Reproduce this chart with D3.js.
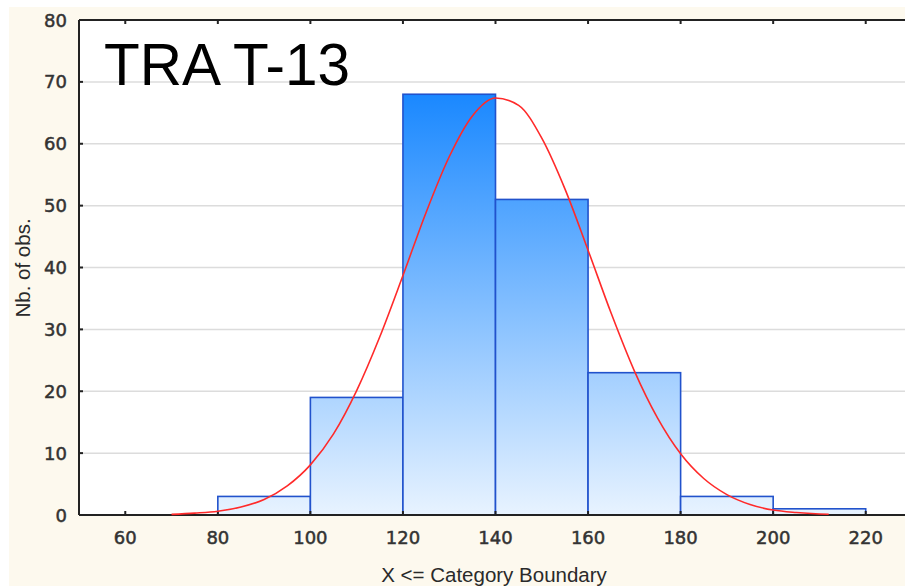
<!DOCTYPE html>
<html>
<head>
<meta charset="utf-8">
<script src="https://cdn.jsdelivr.net/npm/d3@7"></script>
<style>
  body { margin: 0; background: #fff; }
  svg { display: block; }
</style>
</head>
<body>
<div id="chart"></div>
<script>
// histogram bins (lower edge, upper edge, count)
const binStart = [80, 100, 120, 140, 160, 180, 200];
const binEnd = [100, 120, 140, 160, 180, 200, 220];
const counts = [3, 19, 68, 51, 23, 3, 1];

// fitted normal curve
const curveX = [70, 75, 80, 85, 90, 95, 100, 105, 110, 115, 120, 125, 130, 135, 140,
    145, 150, 155, 160, 165, 170, 175, 180, 185, 190, 195, 200, 205, 210, 212];
const curveY = [0.1, 0.3, 0.6, 1.3, 2.5, 4.7, 8.1, 13.1, 20.1, 28.8, 38.7, 48.9, 57.9, 64.5, 67.4,
    66.2, 60.9, 52.7, 42.8, 32.6, 23.3, 15.7, 9.9, 5.9, 3.3, 1.7, 0.8, 0.4, 0.17, 0.12];

const xTicks = [60, 80, 100, 120, 140, 160, 180, 200, 220];
const yTicks = [0, 10, 20, 30, 40, 50, 60, 70, 80];

const width = 905;
const height = 586;
const plotLeft = 79, plotRight = 912, plotTop = 20, plotBottom = 515;

const svg = d3.select("#chart").append("svg")
    .attr("width", width)
    .attr("height", height);

// cream panel
svg.append("rect")
    .attr("x", 9).attr("y", 7)
    .attr("width", width - 9).attr("height", height - 7)
    .attr("fill", "#fdf9ee");

svg.append("rect")
    .attr("x", plotLeft).attr("y", plotTop)
    .attr("width", plotRight - plotLeft).attr("height", plotBottom - plotTop)
    .attr("fill", "#ffffff");

const x = d3.scaleLinear().domain([50, 230]).range([plotLeft, plotRight]);
const y = d3.scaleLinear().domain([0, 80]).range([plotBottom, plotTop]);

const defs = svg.append("defs");
const grad = defs.append("linearGradient")
    .attr("id", "barFill")
    .attr("gradientUnits", "userSpaceOnUse")
    .attr("x1", 0).attr("x2", 0)
    .attr("y1", y(68)).attr("y2", y(0));
grad.append("stop").attr("offset", 0).attr("stop-color", "#1a88ff");
grad.append("stop").attr("offset", 1).attr("stop-color", "#e8f3ff");

// gridlines
svg.append("g")
    .selectAll("line")
    .data(yTicks.filter(d => d > 0 && d < 80))
    .join("line")
    .attr("x1", plotLeft).attr("x2", width)
    .attr("y1", d => y(d)).attr("y2", d => y(d))
    .attr("stroke", "#dcdcdc")
    .attr("stroke-width", 1.5);

// bars
svg.append("g")
    .selectAll("rect")
    .data(counts)
    .join("rect")
    .attr("x", (d, i) => x(binStart[i]))
    .attr("y", d => y(d))
    .attr("width", (d, i) => x(binEnd[i]) - x(binStart[i]))
    .attr("height", d => y(0) - y(d))
    .attr("fill", "url(#barFill)")
    .attr("stroke", "#2152cc")
    .attr("stroke-width", 1.6);

// axes frame
const frame = svg.append("g").attr("stroke", "#222");
frame.append("line").attr("x1", plotLeft).attr("x2", width)
    .attr("y1", plotTop).attr("y2", plotTop).attr("stroke-width", 2);
frame.append("line").attr("x1", plotLeft).attr("x2", width)
    .attr("y1", plotBottom).attr("y2", plotBottom).attr("stroke-width", 2);
frame.append("line").attr("x1", plotLeft).attr("x2", plotLeft)
    .attr("y1", plotTop).attr("y2", plotBottom).attr("stroke-width", 2);

// inward ticks
frame.selectAll(".xtb").data(xTicks).join("line")
    .attr("x1", d => x(d)).attr("x2", d => x(d))
    .attr("y1", plotBottom).attr("y2", plotBottom - 4).attr("stroke-width", 2);
frame.selectAll(".xtt").data(xTicks).join("line")
    .attr("x1", d => x(d)).attr("x2", d => x(d))
    .attr("y1", plotTop).attr("y2", plotTop + 4).attr("stroke-width", 2);
frame.selectAll(".yt").data(yTicks).join("line")
    .attr("x1", plotLeft).attr("x2", plotLeft + 4)
    .attr("y1", d => y(d)).attr("y2", d => y(d)).attr("stroke-width", 2);

// normal curve
const line = d3.line()
    .x((d, i) => x(curveX[i]))
    .y(d => y(d))
    .curve(d3.curveMonotoneX);
svg.append("path")
    .datum(curveY)
    .attr("d", line)
    .attr("fill", "none")
    .attr("stroke", "#ff2a2a")
    .attr("stroke-width", 1.6);

// tick labels
svg.append("g")
    .selectAll("text")
    .data(yTicks)
    .join("text")
    .attr("x", 67)
    .attr("y", d => y(d) + 6.5)
    .attr("text-anchor", "end")
    .attr("font-family", "DejaVu Sans")
    .attr("font-size", 18)
    .attr("fill", "#333")
    .attr("stroke", "#333")
    .attr("stroke-width", 0.5)
    .text(d => d);

svg.append("g")
    .selectAll("text")
    .data(xTicks)
    .join("text")
    .attr("x", d => x(d))
    .attr("y", 544)
    .attr("text-anchor", "middle")
    .attr("font-family", "DejaVu Sans")
    .attr("font-size", 18)
    .attr("fill", "#333")
    .attr("stroke", "#333")
    .attr("stroke-width", 0.5)
    .text(d => d);

// axis titles
svg.append("text")
    .attr("x", 494).attr("y", 582)
    .attr("text-anchor", "middle")
    .attr("font-family", "Liberation Sans, Arial, sans-serif")
    .attr("font-size", 20.5)
    .attr("fill", "#2a2a2a")
    .text("X <= Category Boundary");

svg.append("text")
    .attr("transform", "translate(30,268) rotate(-90)")
    .attr("text-anchor", "middle")
    .attr("font-family", "Liberation Sans, Arial, sans-serif")
    .attr("font-size", 20.5)
    .attr("fill", "#2a2a2a")
    .text("Nb. of obs.");

// title inside plot
svg.append("text")
    .attr("x", 104).attr("y", 85)
    .attr("font-family", "Liberation Sans, Arial, sans-serif")
    .attr("font-size", 58.5)
    .attr("fill", "#000")
    .text("TRA T-13");
</script>
</body>
</html>
